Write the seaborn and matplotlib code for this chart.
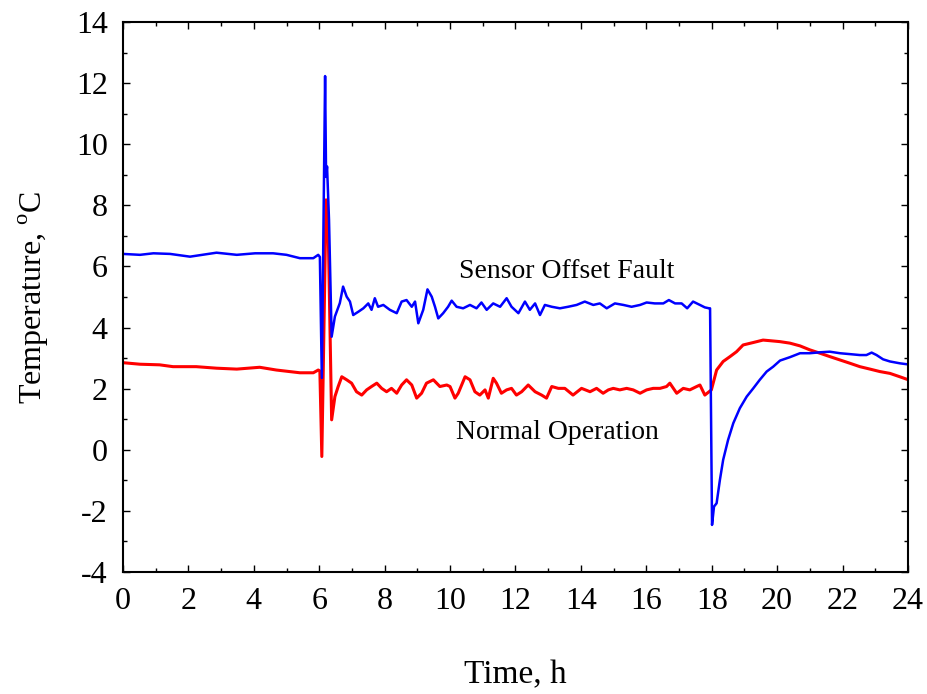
import numpy as np
import pandas as pd
import matplotlib
matplotlib.use("Agg")
import matplotlib.pyplot as plt
import seaborn as sns
from matplotlib.ticker import MultipleLocator

# ---- data ----
time_fault = [0.00, 0.52, 0.93, 1.44, 2.05, 2.86, 3.48, 4.04, 4.59, 5.00, 5.41, 5.82, 5.97, 6.02,
              6.08, 6.18, 6.21, 6.24, 6.30, 6.38, 6.48, 6.63, 6.73, 6.84, 6.94, 7.04, 7.20, 7.35,
              7.50, 7.60, 7.70, 7.80, 7.96, 8.16, 8.37, 8.52, 8.67, 8.83, 8.93, 9.03, 9.18, 9.31,
              9.44, 9.54, 9.64, 9.79, 9.94, 10.05, 10.20, 10.40, 10.61, 10.81, 10.96, 11.12, 11.32,
              11.53, 11.73, 11.88, 12.09, 12.29, 12.44, 12.60, 12.75, 12.90, 13.11, 13.36, 13.61,
              13.87, 14.12, 14.38, 14.58, 14.79, 15.04, 15.30, 15.55, 15.81, 16.01, 16.26, 16.52,
              16.69, 16.88, 17.08, 17.25, 17.43, 17.64, 17.79, 17.92, 17.95, 18.01, 18.07, 18.15,
              18.25, 18.35, 18.50, 18.66, 18.86, 19.07, 19.27, 19.47, 19.68, 19.88, 20.09, 20.39,
              20.70, 21.00, 21.31, 21.61, 21.92, 22.23, 22.53, 22.73, 22.89, 23.04, 23.24, 23.45,
              23.75, 23.96, 24.00]
temp_fault = [6.41, 6.38, 6.43, 6.41, 6.32, 6.45, 6.38, 6.43, 6.43, 6.38, 6.27, 6.27, 6.38, 6.31,
              2.35, 12.23, 8.93, 9.27, 7.52, 3.70, 4.36, 4.80, 5.34, 5.01, 4.85, 4.41, 4.52, 4.63,
              4.79, 4.58, 4.96, 4.68, 4.74, 4.58, 4.47, 4.85, 4.90, 4.68, 4.85, 4.14, 4.58, 5.25,
              5.01, 4.68, 4.30, 4.47, 4.68, 4.88, 4.68, 4.63, 4.74, 4.63, 4.82, 4.58, 4.79,
              4.68, 4.96, 4.68, 4.47, 4.85, 4.58, 4.79, 4.41, 4.74, 4.68, 4.63, 4.68,
              4.74, 4.85, 4.74, 4.79, 4.63, 4.79, 4.74, 4.68, 4.74, 4.82, 4.79, 4.79,
              4.90, 4.79, 4.79, 4.63, 4.85, 4.74, 4.66, 4.63, 4.63, -2.46, -1.86, -1.75,
              -0.99, -0.33, 0.32, 0.87, 1.36, 1.74, 2.01, 2.29, 2.56, 2.72, 2.92, 3.03,
              3.16, 3.16, 3.19, 3.21, 3.16, 3.13, 3.10, 3.10, 3.18, 3.10, 2.96, 2.89,
              2.83, 2.80, 2.80]

time_normal = [0.00, 0.52, 1.12, 1.53, 2.24, 2.86, 3.48, 4.18, 4.69, 5.41, 5.82, 5.97, 6.02, 6.08,
               6.21, 6.27, 6.38, 6.48, 6.58, 6.69, 6.84, 6.99, 7.14, 7.30, 7.45, 7.60, 7.76, 7.91,
               8.06, 8.21, 8.37, 8.52, 8.67, 8.83, 8.98, 9.13, 9.28, 9.49, 9.69, 9.90, 10.00, 10.15,
               10.25, 10.46, 10.61, 10.76, 10.91, 11.07, 11.17, 11.32, 11.42, 11.57, 11.73, 11.88,
               12.03, 12.19, 12.39, 12.60, 12.80, 12.95, 13.11, 13.31, 13.51, 13.76, 14.02, 14.28,
               14.48, 14.68, 14.84, 14.99, 15.19, 15.40, 15.60, 15.81, 16.01, 16.21, 16.42, 16.62,
               16.72, 16.93, 17.13, 17.33, 17.54, 17.64, 17.79, 17.99, 18.15, 18.35, 18.56, 18.76,
               18.96, 19.27, 19.57, 19.78, 20.08, 20.39, 20.70, 21.00, 21.31, 21.61, 21.92, 22.23,
               22.53, 22.84, 23.14, 23.45, 23.75, 23.96, 24.00]
temp_normal = [2.85, 2.80, 2.78, 2.72, 2.72, 2.67, 2.64, 2.70, 2.61, 2.52, 2.52, 2.61, 2.58, -0.22,
               8.18, 7.52, 0.98, 1.74, 2.07, 2.39, 2.29, 2.18, 1.90, 1.79, 1.96, 2.07, 2.18, 2.01,
               1.90, 2.01, 1.85, 2.12, 2.29, 2.12, 1.69, 1.85, 2.18, 2.29, 2.07, 2.12, 2.07, 1.69,
               1.85, 2.39, 2.29, 1.90, 1.79, 1.96, 1.69, 2.34, 2.18, 1.85, 1.96, 2.01,
               1.79, 1.90, 2.12, 1.90, 1.79, 1.69, 2.07, 2.01, 2.01, 1.79, 2.01, 1.90,
               2.01, 1.85, 1.96, 2.01, 1.96, 2.01, 1.96, 1.85, 1.96, 2.01, 2.01, 2.07,
               2.18, 1.85, 2.01, 1.96, 2.07, 2.12, 1.79, 1.96, 2.61, 2.89, 3.05, 3.21,
               3.43, 3.51, 3.59, 3.57, 3.54, 3.49, 3.40, 3.27, 3.16, 3.05, 2.94, 2.83,
               2.72, 2.64, 2.56, 2.50, 2.39, 2.31, 2.30]

x_ticks = [0, 2, 4, 6, 8, 10, 12, 14, 16, 18, 20, 22, 24]
y_ticks = [-4, -2, 0, 2, 4, 6, 8, 10, 12, 14]

# ---- plotting ----
sns.set_theme(style="ticks")
plt.rcParams["font.family"] = ["Liberation Serif", "DejaVu Serif"]
plt.rcParams["mathtext.fontset"] = "custom"
plt.rcParams["mathtext.rm"] = "Liberation Serif"
for k in ["text.color", "axes.labelcolor", "xtick.color", "ytick.color", "axes.edgecolor"]:
    plt.rcParams[k] = "black"

fig = plt.figure(figsize=(9.28, 6.94), dpi=100)
ax = fig.add_axes([0.1325, 0.1758, 0.8459, 0.7925])

df_f = pd.DataFrame({"t": time_fault, "T": temp_fault})
df_n = pd.DataFrame({"t": time_normal, "T": temp_normal})
sns.lineplot(data=df_n, x="t", y="T", ax=ax, color="#FF0000", linewidth=2.2,
             estimator=None, sort=False)
sns.lineplot(data=df_f, x="t", y="T", ax=ax, color="#0000FF", linewidth=1.8,
             estimator=None, sort=False)

ax.set_xlim(0, 24)
ax.set_ylim(-4, 14)
ax.set_xticks(x_ticks)
ax.set_yticks(y_ticks)
ax.set_xticklabels([str(v) for v in x_ticks])
ax.set_yticklabels([str(v) for v in y_ticks])
ax.xaxis.set_minor_locator(MultipleLocator(1))
ax.yaxis.set_minor_locator(MultipleLocator(1))
ax.tick_params(which="both", direction="in", top=True, right=True, color="black", width=1.0)
ax.tick_params(which="major", length=5, labelsize=23, colors="black")
ax.tick_params(axis="x", which="major", pad=11)
ax.tick_params(axis="y", which="major", pad=11)
ax.tick_params(which="minor", length=3)
for s in ax.spines.values():
    s.set_linewidth(1.5)
    s.set_color("black")
    s.set_visible(True)

ax.set_xlabel("Time, h", fontsize=24, labelpad=31)
ax.set_ylabel(r"Temperature, $^{\mathrm{o}}$C", fontsize=23, labelpad=18)

ax.text(13.57, 5.82, "Sensor Offset Fault", fontsize=20, ha="center", va="center")
ax.text(13.27, 0.58, "Normal Operation", fontsize=20, ha="center", va="center")

fig.savefig("out.png", dpi=100, facecolor="white")
